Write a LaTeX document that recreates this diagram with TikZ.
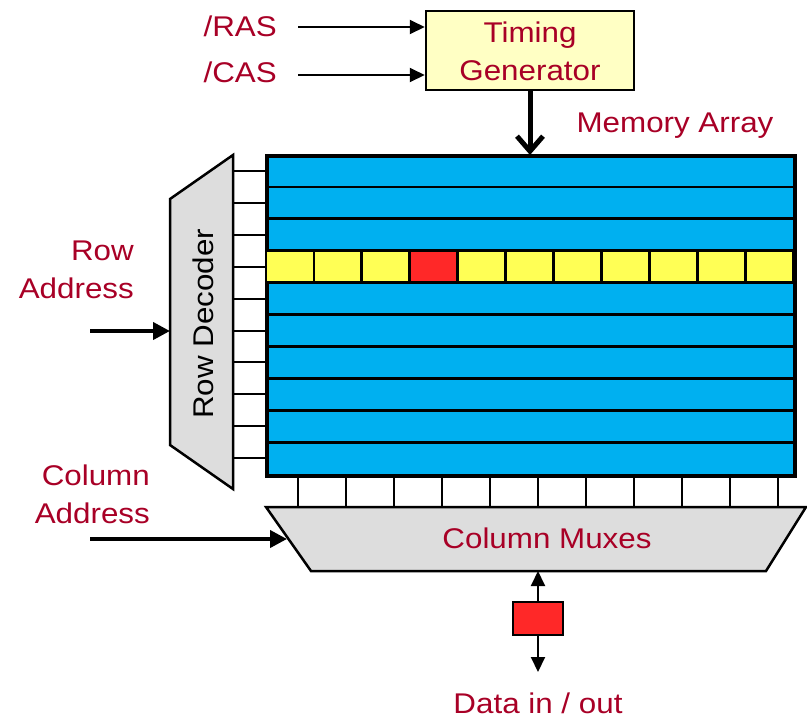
\documentclass[tikz,border=0pt]{standalone}
\usepackage{fontspec}
\setmainfont{Liberation Sans}[FakeStretch=1.1]
\usetikzlibrary{arrows.meta}
\definecolor{lblred}{RGB}{168,0,38}
\definecolor{arrblue}{RGB}{0,176,240}
\definecolor{rowyellow}{RGB}{255,255,85}
\definecolor{bitred}{RGB}{255,40,40}
\definecolor{blockgray}{RGB}{221,221,221}
\definecolor{tgyellow}{RGB}{255,255,196}
\newcommand\lblfont{\fontsize{28.5}{38}\selectfont}
\begin{document}
\begin{tikzpicture}[x=1pt,y=-1pt,
  lbl/.style={text=lblred,font=\lblfont,inner sep=0pt},
  blk/.style={draw=black,line width=2.5pt},
  wire/.style={draw=black,line width=2pt},
  bigarrow/.style={line width=4pt,-{Triangle[length=17pt,width=17pt]}},
  thinarrow/.style={line width=2pt,-{Triangle[length=15pt,width=14pt]}},
  barbarrow/.style={line width=5pt,-{Straight Barb[length=15pt,width=26pt]}}
]
\useasboundingbox (0,0) rectangle (807,721);

% memory array
\node[blk,fill=arrblue,minimum width=527pt,minimum height=319pt,inner sep=0pt,anchor=north west] (arr) at (266,155) {};
\foreach \i in {1,...,9}
  \draw[line width=2.8pt] (266,{155+31.9*\i}) -- (793,{155+31.9*\i});
\foreach \j in {0,...,10}
  \draw[line width=2.8pt,fill=rowyellow] ({266+47.91*\j},250.7) rectangle ++(47.91,31.9);
\draw[line width=2.8pt,fill=bitred] ({266+47.91*3},250.7) rectangle ++(47.91,31.9);
\draw[blk] (arr.north west) rectangle (arr.south east);

% row decoder
\draw[blk,fill=blockgray] (170,199) -- (233,155) -- (233,489) -- (170,445) -- cycle;
\foreach \i in {0,...,9}
  \draw[wire] (233,{171+31.9*\i}) -- (266,{171+31.9*\i});
\node[font=\lblfont,rotate=90,anchor=base,inner sep=0pt] (rdtext) at (213,324) {Row Decoder};

% column muxes
\draw[blk,fill=blockgray] (266,507) -- (806,507) -- (766,571) -- (311,571) -- cycle;
\foreach \k in {0,...,10}
  \draw[wire] ({298+48*\k},474) -- ({298+48*\k},507);
\node[lbl,anchor=base] (cmtext) at (547,548) {Column Muxes};

% timing generator
\node[blk,fill=tgyellow,minimum width=208pt,minimum height=79pt,inner sep=0pt] (tg) at (530,50.5) {};
\node[lbl,align=center,anchor=north] (tgtext) at (530,22) {Timing\\Generator};

% labels
\node[lbl,anchor=base east] (ras) at (277,36) {/RAS};
\node[lbl,anchor=base east] (cas) at (277,82) {/CAS};
\node[lbl,anchor=base] (ma) at (675,132.5) {Memory Array};
\node[lbl,align=right,anchor=north east] (ra) at (134,240.7) {Row\\Address};
\node[lbl,align=right,anchor=north east] (ca) at (150,465) {Column\\Address};

% data
\node[draw=black,line width=2pt,fill=bitred,minimum width=50pt,minimum height=33pt,inner sep=0pt] (dbox) at (538,618.5) {};
\node[lbl,anchor=base] (dio) at (538,713) {Data in / out};

% connectors
\coordinate (rasS) at (298,27);
\coordinate (casS) at (298,75);
\draw[thinarrow] (rasS) -- (rasS -| tg.west);
\draw[thinarrow] (casS) -- (casS -| tg.west);
\draw[barbarrow] (tg.south) -- (tg.south |- arr.north);
\coordinate (raS) at (90,331);
\coordinate (decL) at (170,331);
\draw[bigarrow] (raS) -- (decL);
\coordinate (caS) at (90,539);
\coordinate (muxL) at (287,539);
\draw[bigarrow] (caS) -- (muxL);
\coordinate (muxB) at (538,571);
\coordinate (dOut) at (538,672);
\draw[thinarrow] (dbox.north) -- (muxB);
\draw[thinarrow] (dbox.south) -- (dOut);
\end{tikzpicture}
\end{document}
